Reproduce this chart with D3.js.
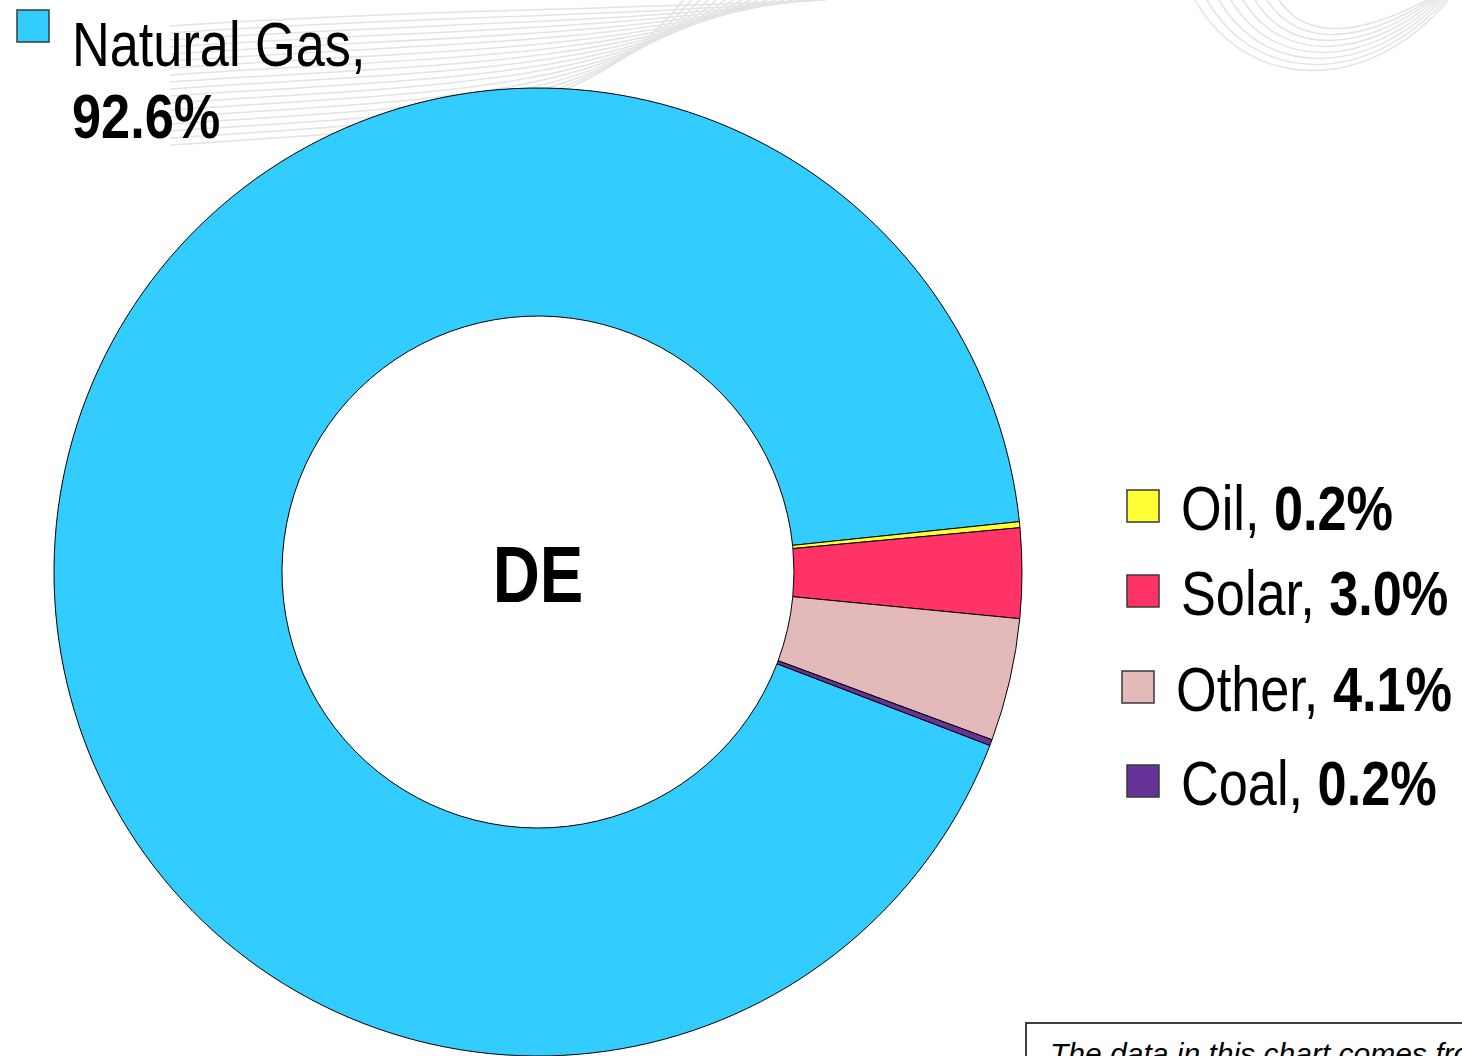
<!DOCTYPE html>
<html>
<head>
<meta charset="utf-8">
<script src="https://cdn.jsdelivr.net/npm/d3@7"></script>
<style>
  html, body { margin: 0; padding: 0; background: #fff; overflow: hidden; }
  svg { display: block; }
  .lbl { font-family: "Liberation Sans", Arial, sans-serif; }
</style>
</head>
<body>
<svg width="1462" height="1056"></svg>
<script>
// chart data
const categories = ["Natural Gas", "Oil", "Solar", "Other", "Coal"];
const shares = [92.6, 0.2, 3.0, 4.1, 0.2];
const colors = ["#33ccff", "#ffff33", "#ff3366", "#e4b9ba", "#663399"];
const centerLabel = "DE";

const width = 1462, height = 1056;
const cx = 538, cy = 572, outerR = 484, innerR = 256;
const startDeg = 111; // where Natural Gas begins (clockwise from 12 o'clock)
const narrow = 0.83;   // labels are set in a condensed face, squeeze a normal one

const svg = d3.select("svg");

// faint watermark lines in the background
const wm = svg.append("g")
    .attr("fill", "none")
    .attr("stroke", "#e3e3e3")
    .attr("stroke-width", 1.5);

d3.range(18).forEach(i => {
    const o = i * 7;
    wm.append("path")
        .attr("d", `M170,${145 - o} C${420},${128 - o} ${585 + o * 0.5},${128 - o} ${683 + o * 1.2},0`);
});
d3.range(8).forEach(k => {
    wm.append("path")
        .attr("d", `M${1195 + k * 12},0 C${1250 + k * 8},${96 - k * 8} ${1372 - k * 2},${92 - k * 8} ${1448 - k * 3},0`);
});

// donut
const pie = d3.pie()
    .sort(null)
    .value(d => d)
    .startAngle(startDeg * Math.PI / 180)
    .endAngle(startDeg * Math.PI / 180 + 2 * Math.PI);

const arc = d3.arc().innerRadius(innerR).outerRadius(outerR);

svg.append("g")
    .attr("transform", `translate(${cx},${cy})`)
    .selectAll("path")
    .data(pie(shares))
    .join("path")
    .attr("d", arc)
    .attr("fill", (d, i) => colors[i])
    .attr("stroke", "#000")
    .attr("stroke-width", 1);

svg.append("text")
    .attr("class", "lbl")
    .attr("transform", `translate(${cx},602) scale(0.815,1)`)
    .attr("text-anchor", "middle")
    .attr("font-size", 80)
    .attr("font-weight", "bold")
    .text(centerLabel);

// legend (positions follow the picture, the Natural Gas entry sits top left)
const legendPos = [
    {x: 17, y: 10},
    {x: 1127, y: 490},
    {x: 1127, y: 575},
    {x: 1122, y: 671},
    {x: 1127, y: 765}
];

const fmt = d3.format(".1f");

const legend = svg.append("g")
    .selectAll("g")
    .data(categories)
    .join("g")
    .attr("transform", (d, i) => `translate(${legendPos[i].x},${legendPos[i].y})`);

legend.append("rect")
    .attr("width", 32)
    .attr("height", 32)
    .attr("fill", (d, i) => colors[i])
    .attr("stroke", "#3a3a3a")
    .attr("stroke-width", 1.5);

legend.each(function (d, i) {
    const g = d3.select(this);
    if (i === 0) {
        g.append("text")
            .attr("class", "lbl")
            .attr("transform", `translate(55,56) scale(${narrow},1)`)
            .attr("font-size", 63)
            .text(d + ",");
        g.append("text")
            .attr("class", "lbl")
            .attr("transform", `translate(55,128) scale(${narrow},1)`)
            .attr("font-size", 63)
            .attr("font-weight", "bold")
            .text(fmt(shares[i]) + "%");
    } else {
        const t = g.append("text")
            .attr("class", "lbl")
            .attr("transform", `translate(54,40) scale(${narrow},1)`)
            .attr("font-size", 63);
        t.append("tspan").text(d + ", ");
        t.append("tspan").attr("font-weight", "bold").text(fmt(shares[i]) + "%");
    }
});

// source note box, runs off the page edge
svg.append("rect")
    .attr("x", 1026).attr("y", 1023)
    .attr("width", 500).attr("height", 80)
    .attr("fill", "#fff")
    .attr("stroke", "#000")
    .attr("stroke-width", 1.5);

svg.append("text")
    .attr("x", 1050).attr("y", 1064)
    .attr("font-family", "Liberation Sans, Arial, sans-serif")
    .attr("font-style", "italic")
    .attr("font-size", 30)
    .text("The data in this chart comes from");
</script>
</body>
</html>
